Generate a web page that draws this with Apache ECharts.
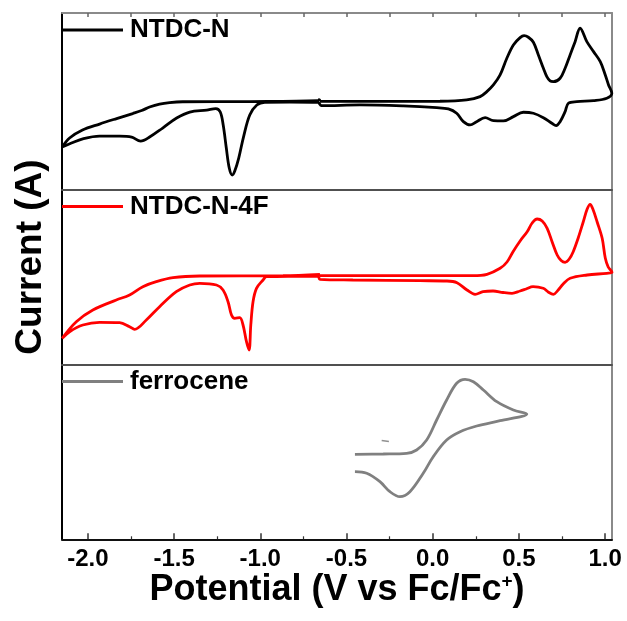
<!DOCTYPE html>
<html>
<head>
<meta charset="utf-8">
<script src="https://cdn.jsdelivr.net/npm/echarts@6/dist/echarts.min.js"></script>
<style>
html,body{margin:0;padding:0;background:#fff;}
#chart{width:627px;height:621px;}
</style>
</head>
<body>
<div id="chart"></div>
<script>
// NTDC-N : potential (V vs Fc/Fc+) and current (a.u.), in sweep order
var ntdcN_V = [-0.654,-0.306,0.042,0.197,0.275,0.314,0.352,0.391,0.430,0.468,0.507,0.530,0.555,0.584,0.613,0.642,0.662,0.681,0.700,0.739,0.768,0.797,0.826,0.855,0.894,0.933,0.972,1.001,1.020,1.039,
	1.010,0.933,0.836,0.787,0.768,0.739,0.716,0.691,0.642,0.584,0.526,0.468,0.410,0.352,0.304,0.255,0.217,0.178,0.139,0.091,0.023,-0.171,-0.422,-0.645,
	-0.666,-0.829,-0.974,-1.020,-1.061,-1.096,-1.125,-1.148,-1.163,-1.180,-1.197,-1.215,-1.232,-1.258,-1.311,-1.409,-1.485,-1.566,-1.642,-1.694,-1.746,-1.816,-1.932,-2.025,-2.095,-2.149,
	-2.106,-2.031,-1.932,-1.833,-1.740,-1.688,-1.642,-1.584,-1.526,-1.450,-1.061,-0.666,-0.654];
var ntdcN_I = [-0.02,-0.02,0.00,0.13,0.46,0.96,1.63,2.63,4.30,5.63,6.36,6.56,6.40,5.90,4.63,3.30,2.46,2.03,1.96,2.30,3.30,4.63,5.96,7.30,5.96,4.96,3.96,2.63,1.63,0.80,
	0.30,0.06,-0.04,-0.20,-1.04,-2.04,-2.44,-2.20,-1.64,-1.20,-1.10,-1.54,-1.97,-1.94,-1.64,-2.04,-2.37,-2.04,-1.20,-0.77,-0.64,-0.47,-0.37,-0.44,
	-0.12,-0.08,-0.10,-0.38,-1.38,-3.48,-5.68,-6.98,-7.38,-6.68,-4.68,-2.38,-1.08,-0.73,-0.88,-1.08,-1.68,-2.68,-3.58,-3.98,-3.58,-3.48,-3.48,-3.73,-4.18,-4.58,
	-3.68,-2.88,-2.28,-1.73,-1.23,-0.93,-0.58,-0.28,-0.13,-0.05,-0.03,0.07,0.27];

// NTDC-N-4F
var ntdcN4F_V = [-0.654,-0.190,0.234,0.315,0.391,0.431,0.466,0.507,0.548,0.577,0.606,0.635,0.664,0.693,0.722,0.745,0.768,0.792,0.815,0.844,0.873,0.896,0.913,0.931,0.954,0.983,1.001,1.018,1.040,
	1.010,0.896,0.797,0.757,0.728,0.700,0.670,0.641,0.582,0.542,0.507,0.460,0.408,0.350,0.292,0.246,0.199,0.141,0.083,-0.074,-0.463,-0.654,
	-0.666,-0.964,-0.984,-1.022,-1.042,-1.055,-1.065,-1.080,-1.100,-1.119,-1.148,-1.167,-1.187,-1.216,-1.254,-1.351,-1.409,-1.487,-1.584,-1.661,-1.729,-1.758,-1.816,-1.932,-2.029,-2.106,-2.149,
	-2.067,-1.971,-1.835,-1.758,-1.681,-1.603,-1.506,-1.351,-0.868,-0.654];
var ntdcN4F_I = [0.14,0.14,0.14,0.28,0.88,1.51,2.54,3.61,4.54,5.41,5.81,5.61,4.88,3.51,2.21,1.66,1.48,1.81,2.54,3.91,5.51,6.81,7.28,6.71,5.51,3.88,1.91,1.01,0.48,
	0.38,0.21,-0.12,-0.69,-1.29,-1.72,-1.49,-1.12,-0.96,-1.19,-1.39,-1.62,-1.54,-1.39,-1.46,-1.72,-1.29,-0.56,-0.39,-0.36,-0.29,-0.22,
	0.11,0.04,-0.29,-1.12,-2.46,-4.79,-7.29,-6.46,-4.79,-4.06,-4.12,-3.79,-2.46,-1.29,-0.79,-0.62,-0.79,-1.46,-2.96,-4.29,-5.22,-4.96,-4.56,-4.52,-4.79,-5.46,-6.12,
	-4.46,-3.29,-2.29,-1.79,-0.96,-0.46,-0.06,0.11,0.14,0.28];

// ferrocene
var fc_V = [-0.451,-0.287,-0.151,-0.093,-0.035,0.023,0.081,0.139,0.188,0.236,0.294,0.372,0.468,0.546,
	0.391,0.255,0.159,0.081,0.003,-0.055,-0.132,-0.190,-0.248,-0.306,-0.383,-0.451];
var fc_I = [-0.23,-0.20,-0.13,0.20,1.20,3.20,5.20,6.87,7.27,7.03,6.20,5.03,4.20,3.80,
	3.13,2.60,2.03,1.20,-0.47,-2.13,-3.97,-4.47,-3.97,-2.97,-2.13,-1.97];
var fcMark_V = [-0.296,-0.254];
var fcMark_I = [1.15,1.05];

var xMajorTicks = [-2.0,-1.5,-1.0,-0.5,0.0,0.5,1.0];
var xMinorTicks = [-1.75,-1.25,-0.75,-0.25,0.25,0.75];
var xTopTicks = [-2.0,-1.75,-1.5,-1.25,-1.0,-0.75,-0.5,-0.25,0.0,0.25,0.5,0.75,1.0];

var xMin = -2.15, xMax = 1.04;
var fontFam = 'Liberation Sans, Arial, sans-serif';

function pairs(v, c){
	var out = [];
	for(var k = 0; k < v.length; k++){ out.push([v[k], c[k]]); }
	return out;
}

var grids = [
	{left:62, right:15, top:13, height:176.5},
	{left:62, right:15, top:189.5, height:175.2},
	{left:62, right:15, top:364.7, height:174.6}
];

function plainX(gi, color){
	return {gridIndex:gi, type:'value', position:'bottom', min:xMin, max:xMax,
		axisLine:{show:true, onZero:false, lineStyle:{color:color, width:2}},
		axisTick:{show:false}, axisLabel:{show:false}, splitLine:{show:false}};
}
function leftY(gi, h){
	return {gridIndex:gi, type:'value', position:'left', min:-h/20, max:h/20,
		axisLine:{show:true, onZero:false, lineStyle:{color:'#000', width:2}},
		axisTick:{show:false}, axisLabel:{show:false}, splitLine:{show:false}};
}
function rightY(gi, h){
	return {gridIndex:gi, type:'value', position:'right', min:-h/20, max:h/20,
		axisLine:{show:true, onZero:false, lineStyle:{color:'#8a8a8a', width:2}},
		axisTick:{show:false}, axisLabel:{show:false}, splitLine:{show:false}};
}

var xAxes = [
	{gridIndex:0, type:'value', position:'top', min:xMin, max:xMax,
		axisLine:{show:true, onZero:false, lineStyle:{color:'#8a8a8a', width:2}},
		axisTick:{show:true, inside:true, length:4, customValues:xTopTicks, lineStyle:{color:'#666', width:1.5}},
		axisLabel:{show:false}, splitLine:{show:false}},
	plainX(0, '#505050'),
	plainX(1, '#505050'),
	{gridIndex:2, type:'value', position:'bottom', min:xMin, max:xMax,
		axisLine:{show:true, onZero:false, lineStyle:{color:'#111', width:2}},
		axisTick:{show:true, inside:true, length:6, customValues:xMajorTicks, lineStyle:{color:'#333', width:1.5}},
		axisLabel:{show:true, customValues:xMajorTicks, margin:8, color:'#000', fontSize:24, fontWeight:'bold', fontFamily:fontFam,
			formatter:function(v){ return v.toFixed(1); }},
		splitLine:{show:false},
		name:'{a|Potential (V vs Fc/Fc}{s|+}{a|)}', nameLocation:'middle', nameGap:29,
		nameTextStyle:{rich:{
			a:{fontSize:36, fontWeight:'bold', color:'#000', fontFamily:fontFam},
			s:{fontSize:19, fontWeight:'bold', color:'#000', fontFamily:fontFam, verticalAlign:'top', padding:[0,0,15,0]}
		}}},
	{gridIndex:2, type:'value', position:'bottom', min:xMin, max:xMax,
		axisLine:{show:false, onZero:false},
		axisTick:{show:true, inside:true, length:3, customValues:xMinorTicks, lineStyle:{color:'#333', width:1.2}},
		axisLabel:{show:false}, splitLine:{show:false}}
];

var yAxes = [
	leftY(0, grids[0].height), rightY(0, grids[0].height),
	leftY(1, grids[1].height), rightY(1, grids[1].height),
	leftY(2, grids[2].height), rightY(2, grids[2].height)
];

function legendFor(name, top){
	return {data:[name], left:62, top:top, padding:0, icon:'rect', itemWidth:61, itemHeight:3, selectedMode:false,
		textStyle:{fontSize:26, fontWeight:'bold', color:'#000', fontFamily:fontFam, padding:[0,0,0,2]}};
}

var chart = echarts.init(document.getElementById('chart'));
var option = {
	animation:false,
	backgroundColor:'#fff',
	grid:grids,
	xAxis:xAxes,
	yAxis:yAxes,
	legend:[legendFor('NTDC-N', 17), legendFor('NTDC-N-4F', 193.5), legendFor('ferrocene', 368.5)],
	graphic:[{
		type:'text', x:31, y:257, rotation:Math.PI/2,
		style:{text:'Current (A)', fill:'#000', font:'bold 37px ' + fontFam, align:'center', verticalAlign:'middle'}
	}],
	series:[
		{name:'NTDC-N', type:'line', xAxisIndex:1, yAxisIndex:0, data:pairs(ntdcN_V, ntdcN_I),
			symbol:'none', smooth:0.35, color:'#000', lineStyle:{color:'#000', width:2.8}},
		{name:'NTDC-N-4F', type:'line', xAxisIndex:2, yAxisIndex:2, data:pairs(ntdcN4F_V, ntdcN4F_I),
			symbol:'none', smooth:0.35, color:'#ff0000', lineStyle:{color:'#ff0000', width:2.8}},
		{name:'ferrocene', type:'line', xAxisIndex:3, yAxisIndex:4, data:pairs(fc_V, fc_I),
			symbol:'none', smooth:0.35, color:'#808080', lineStyle:{color:'#808080', width:2.8}},
		{name:'fc-mark', type:'line', xAxisIndex:3, yAxisIndex:4, data:pairs(fcMark_V, fcMark_I),
			symbol:'none', color:'#808080', lineStyle:{color:'#909090', width:1.5}}
	]
};
chart.setOption(option);
</script>
</body>
</html>
